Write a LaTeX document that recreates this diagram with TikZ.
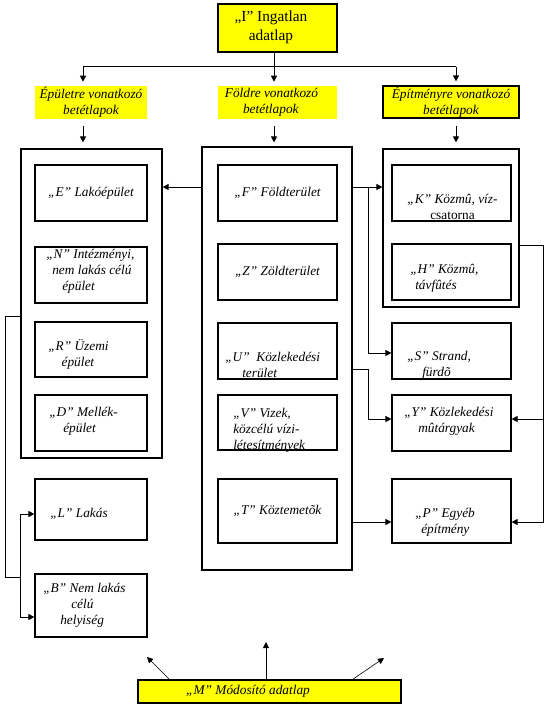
\documentclass[tikz,border=0pt]{standalone}
\usepackage{fontspec}
\setmainfont{Liberation Serif}
\usetikzlibrary{arrows.meta, positioning}
\definecolor{formyellow}{RGB}{255,255,0}

\begin{document}
\begin{tikzpicture}[x=0.75pt, y=-0.75pt,
    boxframe/.style={rectangle, draw=black, line width=0.9pt, inner sep=0pt},
    sheet/.style={boxframe, fill=formyellow},
    lbl/.style={rectangle, fill=formyellow, inner sep=0pt},
    cell/.style={boxframe, minimum height=42pt},
    ctxt/.style={inner sep=0pt, font=\fontsize{10}{12}\selectfont\itshape, align=center},
    txt/.style={inner sep=0pt, font=\fontsize{10}{12}\selectfont\itshape, align=left, anchor=west},
    wire/.style={line width=0.75pt},
    arr/.style={wire, -{Triangle[length=4.5pt,width=4.5pt]}},
    thinarr/.style={line width=0.45pt, -{Triangle[length=4.5pt,width=4.5pt]}}
]
\useasboundingbox (0,0) rectangle (546,706);

%% header sheet and section labels
\node[sheet, minimum width=89.25pt, minimum height=36pt] (topI) at (277.5,28) {};
\node[ctxt, font=\fontsize{11.5}{14.25}\selectfont] (tI) at (271,27.5) {„I” Ingatlan\\adatlap};
\node[lbl, ctxt, minimum width=84pt, minimum height=24.75pt] (lblE) at (91,102.5) {Épületre vonatkozó\\betétlapok};
\node[lbl, ctxt, minimum width=89.25pt, minimum height=24.75pt] (lblF) at (277.5,102.5) {\hspace*{-9pt}Földre vonatkozó\\\hspace*{-10pt}betétlapok};
\node[sheet, ctxt, minimum width=102pt, minimum height=24pt] (lblK) at (451,102) {Építményre vonatkozó\\betétlapok};

%% containers
\node[boxframe, minimum width=105.75pt, minimum height=231.75pt] (contE) at (91.5,303.5) {};
\node[boxframe, minimum width=112.5pt, minimum height=317.25pt] (contF) at (277,358.5) {};
\node[boxframe, minimum width=102pt, minimum height=118.5pt] (contK) at (451,228) {};

%% left column
\node[cell, ctxt, minimum width=84pt] (boxE) at (91,193) {„E” Lakóépület};
\node[cell, minimum width=84pt] (boxN) at (91,275) {};
\node[cell, minimum width=84pt, minimum height=41.25pt] (boxR) at (91,349.5) {};
\node[cell, minimum width=84pt] (boxD) at (91,423) {};
\node[cell, minimum width=84pt, minimum height=45.75pt] (boxL) at (91,509.5) {};
\node[cell, minimum width=84pt, minimum height=47.25pt] (boxB) at (91,605.5) {};
\node[txt] (tN) at (46,271) {„N” Intézményi,\\\hspace*{4.5pt}nem lakás célú\\\hspace*{12pt}épület};
\node[txt] (tR) at (48,354.5) {„R” Üzemi\\\hspace*{10pt}épület};
\node[txt] (tD) at (49,421) {„D” Mellék-\\\hspace*{10.5pt}épület};
\node[txt] (tL) at (50,514) {„L” Lakás};
\node[txt] (tB) at (43,605.5) {„B” Nem lakás\\\hspace*{21pt}célú\\\hspace*{12.75pt}helyiség};

%% middle column
\node[cell, ctxt, minimum width=89.25pt] (boxF) at (277.5,193) {„F” Földterület};
\node[cell, ctxt, minimum width=89.25pt] (boxZ) at (277.5,272) {„Z” Zöldterület};
\node[cell, minimum width=89.25pt] (boxU) at (277.5,351) {};
\node[cell, minimum width=89.25pt, minimum height=41.25pt] (boxV) at (277.5,422.5) {};
\node[cell, ctxt, minimum width=89.25pt, minimum height=48pt] (boxT) at (277.5,511) {„T” Köztemetõk};
\node[txt] (tU) at (225,364.5) {„U”\ \ Közlekedési\\\hspace*{12.75pt}terület};
\node[txt] (tV) at (233,430) {„V” Vizek,\\közcélú vízi-\\létesítmények};

%% right column
\node[cell, minimum width=89.25pt] (boxK) at (451.5,193) {};
\node[cell, minimum width=89.25pt] (boxH) at (451.5,272) {};
\node[cell, minimum width=89.25pt] (boxS) at (451.5,351) {};
\node[cell, minimum width=89.25pt] (boxY) at (451.5,423) {};
\node[cell, minimum width=89.25pt, minimum height=48pt] (boxP) at (451.5,511) {};
\node[ctxt] (tK) at (452.5,206.5) {„K” Közmû, víz-\\{\upshape csatorna}};
\node[txt] (tH) at (410,278.5) {„H” Közmû,\\\hspace*{3.75pt}távfûtés};
\node[txt] (tS) at (407,365.5) {„S” Strand,\\\hspace*{11.25pt}fürdõ};
\node[txt] (tY) at (404,421.5) {„Y” Közlekedési\\\hspace*{10.5pt}mûtárgyak};
\node[txt] (tP) at (415,522.5) {„P” Egyéb\\\hspace*{4.5pt}építmény};

%% modifier sheet
\node[sheet, minimum width=197.25pt, minimum height=17.25pt] (boxM) at (269.5,691.5) {};
\node[ctxt] (tM) at (248,691.5) {„M” Módosító adatlap};

%% branch points
\coordinate (colE) at (83,67);
\coordinate (colF) at (274,67);
\coordinate (colK) at (456,67);
\coordinate (rowA) at (0,187);
\coordinate (rowU) at (0,369);
\coordinate (rowY) at (0,419);
\coordinate (rowP) at (0,522);
\coordinate (rowL) at (0,514);
\coordinate (rowB) at (0,617);
\coordinate (busA) at (368,187);
\coordinate (busR) at (543,245);
\coordinate (busL) at (5,316);
\coordinate (busB) at (20,577);
\coordinate (mUp) at (266,642);
\coordinate (mL) at (147,657);
\coordinate (mR) at (384,658);

%% header to sections
\draw[wire] (topI.south -| colF) -- (colF);
\draw[wire] (colE) -- (colK);
\draw[arr, shorten >=3pt] (colE) -- (colE |- lblE.north);
\draw[arr, shorten >=3pt] (colF) -- (colF |- lblF.north);
\draw[arr, shorten >=3pt] (colK) -- (colK |- lblK.north);
\draw[arr, shorten <=5pt, shorten >=4.5pt] (colE |- lblE.south) -- (colE |- contE.north);
\draw[arr, shorten <=5pt, shorten >=3pt] (colF |- lblF.south) -- (colF |- contF.north);
\draw[arr, shorten <=5.5pt, shorten >=4.5pt] (colK |- lblK.south) -- (colK |- contK.north);

%% land sheet links
\draw[arr] (contF.west |- rowA) -- (contE.east |- rowA);
\draw[arr] (contF.east |- rowA) -- (contK.west |- rowA);
\draw[arr] (busA) |- (boxS.west |- 0,353);
\draw[arr] (contF.east |- rowU) -- (busA |- rowU) |- (boxY.west |- rowY);
\draw[arr] (contF.east |- rowP) -- (boxP.west |- rowP);

%% utility links
\draw[arr] (contK.east |- busR) -- (busR) |- (boxP.east |- rowP);
\draw[arr] (busR |- rowY) -- (boxY.east |- rowY);

%% building links
\draw[wire] (contE.west |- busL) -- (busL) |- (busB);
\draw[arr] (busB) |- (boxL.west |- rowL);
\draw[arr] (busB) |- (boxB.west |- rowB);

%% modifier arrows
\draw[arr] (boxM.north -| mUp) -- (mUp);
\draw[thinarr] ([xshift=24pt]boxM.north west) -- (mL);
\draw[thinarr] ([xshift=-36.75pt]boxM.north east) -- (mR);

\end{tikzpicture}
\end{document}
